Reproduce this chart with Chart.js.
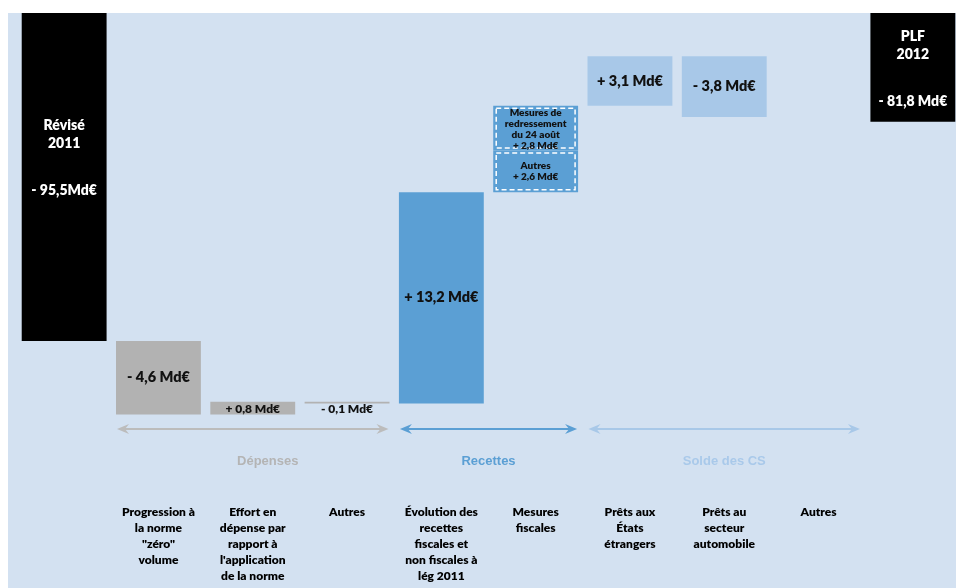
<!DOCTYPE html>
<html lang="fr">
<head>
<meta charset="utf-8">
<title>Du solde révisé 2011 au PLF 2012</title>
<script src="https://cdn.jsdelivr.net/npm/chart.js@4.4.1/dist/chart.umd.min.js"></script>
<style>
  html, body { margin: 0; padding: 0; background: #fff; overflow: hidden; }
</style>
</head>
<body>
<canvas id="solde" width="960" height="588"></canvas>
<script>
// Passage du solde révisé 2011 au solde du PLF 2012, en Md€
const libelles = [
  [''],
  ['Progression à', 'la norme', '"zéro"', 'volume'],
  ['Effort en', 'dépense par', 'rapport à', "l'application", 'de la norme'],
  ['Autres'],
  ['Évolution des', 'recettes', 'fiscales et', 'non fiscales à', 'lég 2011'],
  ['Mesures', 'fiscales'],
  ['Prêts aux', 'États', 'étrangers'],
  ['Prêts au', 'secteur', 'automobile'],
  ['Autres'],
  ['']
];
const soldeRevise2011 = -95.5;
const soldePLF2012 = -81.8;
// variation de chaque poste (segment du bas pour les mesures fiscales)
const variations = [null, -4.6, 0.8, -0.1, 13.2, 2.6, 3.1, -3.8, null, null];
// segment du haut des mesures fiscales
const variationsHaut = [null, null, null, null, null, 2.8, null, null, null, null];
const nomsTotaux = [['Révisé', '2011'], ['PLF', '2012']];
const nomSegmentBas = ['Autres'];
const nomSegmentHaut = ['Mesures de', 'redressement', 'du 24 août'];
const groupes = ['Dépenses', 'Recettes', 'Solde des CS'];
const groupesDebut = [1, 4, 6];
const groupesFin = [3, 5, 8];

const NOIR = '#000000', GRIS = '#b2b2b2', BLEU = '#5b9fd4', BLEU_CLAIR = '#a8c8e8';
const couleurs = [NOIR, GRIS, GRIS, GRIS, BLEU, BLEU, BLEU_CLAIR, BLEU_CLAIR, BLEU_CLAIR, NOIR];
const couleursGroupes = ['#bcbcbc', BLEU, BLEU_CLAIR];
const couleursTexteGroupes = ['#b4b4b4', '#5b9fd4', '#a9c9ea'];
const decalagesTotaux = [-20, 1.5];
const decalagesGroupes = [15, 0, 0];
const POIDS = '800';

const AXE_HAUT = -75;
const AXE_BAS = -100.125;

// barres flottantes de la cascade
const n = libelles.length;
const barres = new Array(n).fill(null);
const barresHaut = new Array(n).fill(null);
barres[0] = [AXE_HAUT, soldeRevise2011];
let cumul = soldeRevise2011;
for (let i = 1; i < n - 1; i++) {
  if (variations[i] !== null) {
    barres[i] = [cumul, cumul + variations[i]];
    cumul += variations[i];
  }
  if (variationsHaut[i] !== null) {
    barresHaut[i] = [cumul, cumul + variationsHaut[i]];
    cumul += variationsHaut[i];
  }
}
barres[n - 1] = [AXE_HAUT, soldePLF2012];

function md(v, espace = true) {
  const signe = v < 0 ? '- ' : '+ ';
  return signe + Math.abs(v).toFixed(1).replace('.', ',') + (espace ? ' ' : '') + 'Md€';
}

function lignes(ctx, textes, x, yCentre, pas) {
  const y0 = yCentre - (textes.length - 1) * pas / 2;
  textes.forEach((t, k) => ctx.fillText(t, x, y0 + k * pas));
}

// fond bleu clair de la zone du graphique
const fond = {
  id: 'fond',
  beforeDraw(chart) {
    const ctx = chart.ctx;
    ctx.save();
    ctx.fillStyle = '#d3e1f1';
    ctx.fillRect(8, 13, chart.width - 8, chart.height - 13);
    ctx.restore();
  }
};

// montants et libellés dans les barres
const etiquettes = {
  id: 'etiquettes',
  afterDatasetsDraw(chart) {
    const ctx = chart.ctx;
    const meta = chart.getDatasetMeta(0);
    const metaHaut = chart.getDatasetMeta(1);
    ctx.save();
    ctx.textAlign = 'center';
    ctx.textBaseline = 'middle';

    meta.data.forEach((barre, i) => {
      if (barres[i] === null) return;
      const { x, y, base, width } = barre.getProps(['x', 'y', 'base', 'width'], true);
      const haut = Math.min(y, base), bas = Math.max(y, base);
      const milieu = (haut + bas) / 2;

      if (i === 0 || i === n - 1) {
        const k = i === 0 ? 0 : 1;
        const valeur = k === 0 ? soldeRevise2011 : soldePLF2012;
        const c = milieu + decalagesTotaux[k];
        ctx.fillStyle = '#ffffff';
        ctx.font = POIDS + ' 14px Lato';
        ctx.fillText(nomsTotaux[k][0], x, c - 32);
        ctx.fillText(nomsTotaux[k][1], x, c - 14);
        ctx.fillText(md(valeur, k === 1), x, c + 33);
      } else if (variationsHaut[i] !== null) {
        // segments pointillés des mesures fiscales
        const segHaut = metaHaut.data[i].getProps(['y', 'base'], true);
        const hHaut = Math.min(segHaut.y, segHaut.base), bHaut = Math.max(segHaut.y, segHaut.base);
        ctx.strokeStyle = '#ffffff';
        ctx.lineWidth = 1.5;
        ctx.setLineDash([5, 3]);
        ctx.strokeRect(x - width / 2 + 3, haut + 2.5, width - 6, bas - haut - 5);
        ctx.strokeRect(x - width / 2 + 3, hHaut + 2.5, width - 6, bHaut - hHaut - 5);
        ctx.setLineDash([]);
        ctx.fillStyle = '#111111';
        ctx.font = POIDS + ' 10px Lato';
        lignes(ctx, nomSegmentBas.concat(md(variations[i])), x, milieu, 11.5);
        lignes(ctx, nomSegmentHaut.concat(md(variationsHaut[i])), x, (hHaut + bHaut) / 2 + 1, 11);
      } else if (bas - haut < 16) {
        ctx.fillStyle = '#111111';
        ctx.font = POIDS + ' 12px Lato';
        ctx.fillText(md(variations[i]), x, haut + 7);
      } else {
        ctx.fillStyle = '#111111';
        ctx.font = POIDS + ' 14.5px Lato';
        ctx.fillText(md(variations[i]), x, milieu);
      }
    });
    ctx.restore();
  }
};

// flèches de regroupement sous les barres
function pointe(ctx, xBout, y, sens) {
  ctx.beginPath();
  ctx.moveTo(xBout, y);
  ctx.lineTo(xBout - sens * 12, y - 5);
  ctx.lineTo(xBout - sens * 8, y);
  ctx.lineTo(xBout - sens * 12, y + 5);
  ctx.closePath();
  ctx.fill();
}

const fleches = {
  id: 'fleches',
  afterDraw(chart) {
    const ctx = chart.ctx;
    const echelle = chart.scales.x;
    const demi = chart.getDatasetMeta(0).data[1].width / 2;
    const yFleche = 429, yTexte = 461;
    ctx.save();
    groupes.forEach((nom, g) => {
      const x1 = echelle.getPixelForValue(groupesDebut[g]) - demi + 1;
      const x2 = echelle.getPixelForValue(groupesFin[g]) + demi - 1;
      ctx.strokeStyle = couleursGroupes[g];
      ctx.fillStyle = couleursGroupes[g];
      ctx.lineWidth = 2;
      ctx.beginPath();
      ctx.moveTo(x1 + 6, yFleche);
      ctx.lineTo(x2 - 6, yFleche);
      ctx.stroke();
      pointe(ctx, x1, yFleche, -1);
      pointe(ctx, x2, yFleche, 1);
      ctx.fillStyle = couleursTexteGroupes[g];
      ctx.font = 'bold 13px "Liberation Sans"';
      ctx.textAlign = 'center';
      ctx.textBaseline = 'middle';
      ctx.fillText(nom, (x1 + x2) / 2 + decalagesGroupes[g], yTexte);
    });
    ctx.restore();
  }
};

function dessiner() {
  new Chart(document.getElementById('solde'), {
    type: 'bar',
    data: {
      labels: libelles,
      datasets: [{
        data: barres,
        backgroundColor: couleurs,
        borderWidth: 0,
        grouped: false,
        barPercentage: 0.9,
        categoryPercentage: 1,
        clip: false
      }, {
        data: barresHaut,
        backgroundColor: BLEU,
        borderWidth: 0,
        grouped: false,
        barPercentage: 0.9,
        categoryPercentage: 1,
        clip: false
      }]
    },
    options: {
      responsive: false,
      animation: false,
      devicePixelRatio: 1,
      layout: { padding: { top: 13, left: 17, right: 0, bottom: 0 } },
      plugins: {
        legend: { display: false },
        tooltip: { enabled: false }
      },
      scales: {
        x: {
          // traits de graduation invisibles : ils servent d'écart avant les libellés
          grid: {
            display: true,
            drawOnChartArea: false,
            drawTicks: true,
            tickLength: 89,
            color: 'rgba(0,0,0,0)'
          },
          border: { display: false },
          ticks: {
            autoSkip: false,
            maxRotation: 0,
            minRotation: 0,
            padding: 0,
            color: '#000000',
            font: { family: 'Lato', weight: POIDS, size: 12, lineHeight: 1.3333 }
          },
          afterFit(scale) { scale.height = 173; }
        },
        y: {
          display: false,
          min: AXE_BAS,
          max: AXE_HAUT
        }
      }
    },
    plugins: [fond, etiquettes, fleches]
  });
}

Promise.all([
  document.fonts.load(POIDS + ' 12px Lato'),
  document.fonts.load('bold 13px "Liberation Sans"')
]).then(dessiner, dessiner);
</script>
</body>
</html>
